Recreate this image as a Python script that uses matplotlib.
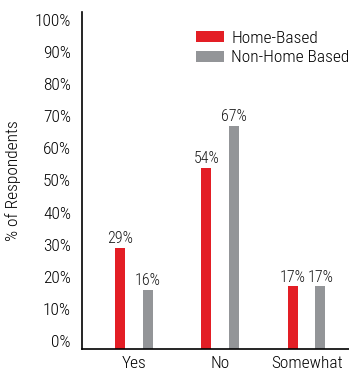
import matplotlib.pyplot as plt
import numpy as np

plt.rcParams['font.family'] = ['Roboto Condensed', 'DejaVu Sans']
plt.rcParams['font.weight'] = 300
plt.rcParams['axes.labelweight'] = 300

categories = ['Yes', 'No', 'Somewhat']
home_based = [29, 54, 17]
non_home_based = [16, 67, 17]
yticks = list(range(0, 101, 10))

red = '#e31e25'
grey = '#939598'
ymin, ymax = -2.5, 102.5

fig = plt.figure(figsize=(3.49, 3.70), dpi=100)
ax = fig.add_axes([82 / 349, 21 / 370, 267 / 349, 337 / 370])

x = np.arange(len(categories))
w = 0.116
off = 0.16
b1 = ax.bar(x - off, np.array(home_based) - ymin, w, bottom=ymin, color=red, label='Home-Based')
b2 = ax.bar(x + off, np.array(non_home_based) - ymin, w, bottom=ymin, color=grey, label='Non-Home Based')

for bars, vals in ((b1, home_based), (b2, non_home_based)):
    for rect, v in zip(bars, vals):
        ax.text(rect.get_x() + rect.get_width() / 2, v + 0.5, f'{v}%',
                ha='center', va='bottom', fontsize=11.5, color='#1a1a1a')

ax.set_xlim(-0.6, 2.49)
ax.set_ylim(ymin, ymax)
ax.set_xticks(x)
ax.set_xticklabels(categories, fontsize=12.5)
ax.set_yticks(yticks)
ax.set_yticklabels([f'{t}%' for t in yticks], fontsize=12.5)
ax.tick_params(axis='y', length=0, pad=8)
ax.tick_params(axis='x', length=0, pad=5)
ax.spines['top'].set_visible(False)
ax.spines['right'].set_visible(False)
ax.spines['left'].set_linewidth(1.2)
ax.spines['bottom'].set_linewidth(1.2)
ax.set_ylabel('% of Respondents', fontsize=12.5, fontweight=300, labelpad=10)

ax.legend(loc='upper left', bbox_to_anchor=(0.37, 0.99), frameon=False, fontsize=12.5,
          handlelength=1.6, handleheight=0.6, handletextpad=0.4, labelspacing=0.25)

fig.savefig('out.png', dpi=100)
